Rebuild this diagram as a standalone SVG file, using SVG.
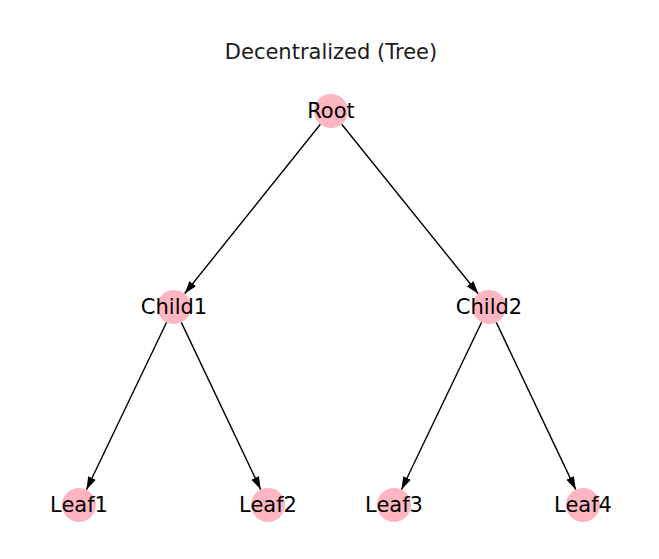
<svg xmlns="http://www.w3.org/2000/svg" width="659" height="559" viewBox="0 0 659 559">
<defs>
<style>
.node{fill:#ffb6c1;}
.lbl{font-family:"DejaVu Sans",sans-serif;font-size:21px;fill:#000;text-anchor:middle;dominant-baseline:central;}
.title{font-family:"DejaVu Sans",sans-serif;font-size:21px;fill:#1a1a1a;text-anchor:middle;}
.edge{stroke:#000;stroke-width:1.4;fill:none;marker-end:url(#ah);}
</style>
<marker id="ah" markerUnits="userSpaceOnUse" markerWidth="13" markerHeight="10" viewBox="0 0 13 10" refX="13" refY="5" orient="auto">
<path d="M0,0.8 L13,5 L0,9.2 Z" fill="#000"/>
</marker>
</defs>
<rect width="659" height="559" fill="#fff"/>
<text class="title" x="331" y="59">Decentralized (Tree)</text>
<g id="connectors">
<line class="edge" x1="320.4" y1="124.3" x2="184.6" y2="293.7"/>
<line class="edge" x1="341.7" y1="124.2" x2="478.3" y2="293.8"/>
<line class="edge" x1="166.6" y1="322.3" x2="86.4" y2="489.7"/>
<line class="edge" x1="181.3" y1="322.4" x2="260.7" y2="489.6"/>
<line class="edge" x1="481.6" y1="322.3" x2="401.4" y2="489.7"/>
<line class="edge" x1="496.3" y1="322.4" x2="575.7" y2="489.6"/>
</g>
<g id="Root"><circle class="node" cx="331" cy="111" r="17"/><text class="lbl" x="331" y="111">Root</text></g>
<g id="Child1"><circle class="node" cx="174" cy="307" r="17"/><text class="lbl" x="174" y="307">Child1</text></g>
<g id="Child2"><circle class="node" cx="489" cy="307" r="17"/><text class="lbl" x="489" y="307">Child2</text></g>
<g id="Leaf1"><circle class="node" cx="79" cy="505" r="17"/><text class="lbl" x="79" y="505">Leaf1</text></g>
<g id="Leaf2"><circle class="node" cx="268" cy="505" r="17"/><text class="lbl" x="268" y="505">Leaf2</text></g>
<g id="Leaf3"><circle class="node" cx="394" cy="505" r="17"/><text class="lbl" x="394" y="505">Leaf3</text></g>
<g id="Leaf4"><circle class="node" cx="583" cy="505" r="17"/><text class="lbl" x="583" y="505">Leaf4</text></g>
</svg>
